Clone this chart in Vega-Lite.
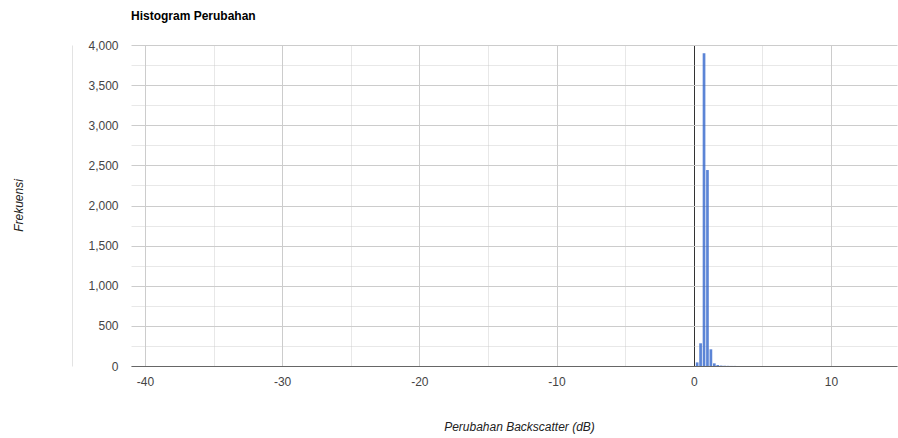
{
  "$schema": "https://vega.github.io/schema/vega-lite/v6.json",
  "autosize": "none",
  "width": 766,
  "height": 321,
  "padding": {"left": 131, "top": 45, "right": 1, "bottom": 72},
  "background": "#ffffff",
  "config": {"view": {"stroke": null}, "font": "Liberation Sans"},
  "title": {"text": "Histogram Perubahan", "anchor": "start", "frame": "group", "fontSize": 12, "fontWeight": "bold", "color": "#000000", "offset": 16, "font": "Liberation Sans"},
  "data": {"values": [
    {"x": 0.25, "count": 45},
    {"x": 0.5, "count": 283},
    {"x": 0.75, "count": 3897},
    {"x": 1.0, "count": 2442},
    {"x": 1.25, "count": 208},
    {"x": 1.5, "count": 33},
    {"x": 1.75, "count": 12},
    {"x": 2.0, "count": 5},
    {"x": 2.25, "count": 3},
    {"x": 2.5, "count": 2},
    {"x": 2.75, "count": 1},
    {"x": 3.0, "count": 1}
  ]},
  "encoding": {
    "x": {
      "field": "x", "type": "quantitative",
      "scale": {"domain": [-40.65, 14.45], "nice": false, "zero": false},
      "axis": {
        "title": "Perubahan Backscatter (dB)",
        "titleFontStyle": "italic", "titleFontWeight": "normal", "titleFontSize": 12, "titleColor": "#222222",
        "titleX": 388, "titleY": 55, "titleBaseline": "top", "titleAnchor": "middle", "titleAlign": "center",
        "values": [-40, -35, -30, -25, -20, -15, -10, -5, 0, 5, 10],
        "labelExpr": "datum.value % 10 === 0 ? toString(datum.value) : ''",
        "labelFontSize": 12, "labelColor": "#444444", "labelPadding": 10,
        "ticks": false, "domain": true, "domainColor": "#666666", "domainWidth": 1,
        "grid": true,
        "gridColor": {"condition": {"test": "datum.value === 0", "value": "#333333"}, "value": "#cccccc"},
        "gridOpacity": {"condition": {"test": "datum.value % 10 !== 0", "value": 0.45}, "value": 1}
      }
    }
  },
  "layer": [
    {
      "mark": {"type": "bar", "color": "#3366cc", "size": 2.7, "opacity": 0.8},
      "encoding": {
        "y": {
          "field": "count", "type": "quantitative",
          "scale": {"domain": [0, 4000], "nice": false},
          "axis": {
            "orient": "left",
            "title": "Frekuensi",
            "titleFontStyle": "italic", "titleFontWeight": "normal", "titleFontSize": 12, "titleColor": "#222222",
            "titleX": -113, "titleY": 160, "titleAngle": -90, "titleAlign": "center", "titleBaseline": "middle",
            "values": [0, 250, 500, 750, 1000, 1250, 1500, 1750, 2000, 2250, 2500, 2750, 3000, 3250, 3500, 3750, 4000],
            "labelExpr": "datum.value % 500 === 0 ? format(datum.value, ',') : ''",
            "labelFontSize": 12, "labelColor": "#444444", "labelPadding": 13,
            "ticks": false, "domain": false,
            "grid": true, "gridColor": "#cccccc",
            "gridOpacity": {"condition": {"test": "datum.value % 500 !== 0", "value": 0.45}, "value": 1}
          }
        }
      }
    },
    {
      "mark": {"type": "bar", "opacity": 0, "size": 1},
      "encoding": {
        "y": {
          "field": "count", "type": "quantitative",
          "scale": {"domain": [0, 4000], "nice": false},
          "axis": {
            "orient": "left", "offset": 59, "title": null, "labels": false, "ticks": false, "grid": false,
            "domain": true, "domainColor": "#e3e3e3", "domainWidth": 1
          }
        }
      }
    }
  ],
  "resolve": {"axis": {"y": "independent"}}
}
